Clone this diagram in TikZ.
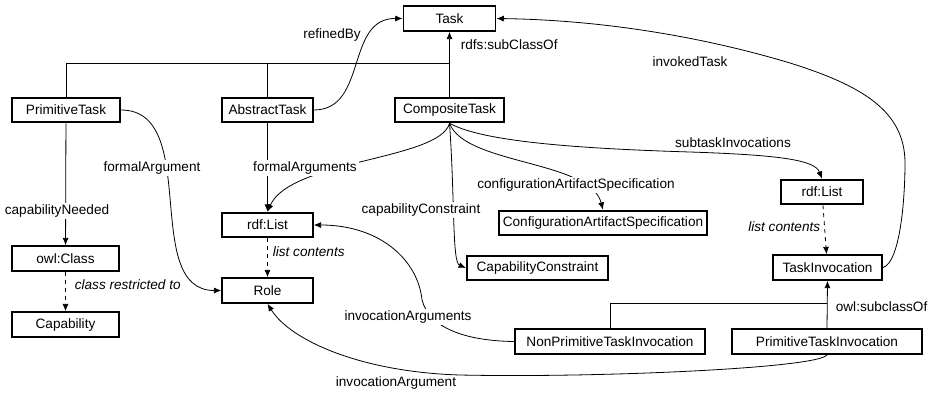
\documentclass[tikz,border=0pt]{standalone}
\usepackage{fontspec}
\setmainfont{Liberation Sans}
\usetikzlibrary{arrows.meta}

\begin{document}
\begin{tikzpicture}[x=0.75pt,y=-0.75pt,font=\fontsize{10.2}{12}\selectfont,line width=0.6pt,
  cls/.style={draw,line width=1.4pt,minimum height=18.5pt,inner xsep=2pt,inner ysep=1pt,minimum width=#1},
  cls/.default=68pt,
  arr/.style={-{Latex[length=5.5pt,width=4.5pt]}},
  lbl/.style={fill=white,inner sep=1.5pt}]

\useasboundingbox (0,0) rectangle (932,393);

\begin{scope}
% classes
\node[cls=69pt] (task) at (449.5,18.5) {Task};
\node[cls=81pt] (primtask) at (66,110) {PrimitiveTask};
\node[cls=68pt] (abstask) at (267.5,110) {AbstractTask};
\node[cls=82pt] (comptask) at (449.5,110) {CompositeTask};
\node[cls=80pt] (owlclass) at (65.5,258.5) {owl:Class};
\node[cls=80pt] (capability) at (65.5,324.5) {Capability};
\node[cls=68pt] (lista) at (267.5,225) {rdf:List};
\node[cls=68pt] (role) at (267.5,290.5) {Role};
\node[cls=106pt] (capcons) at (537.5,268) {CapabilityConstraint};
\node[cls=156pt] (confart) at (603,223) {ConfigurationArtifactSpecification};
\node[cls=62pt] (listb) at (822,192) {rdf:List};
\node[cls=82pt] (taskinv) at (827.5,267.5) {TaskInvocation};
\node[cls=142pt] (nonprim) at (610,341.5) {NonPrimitiveTaskInvocation};
\node[cls=142pt] (priminv) at (827,341.5) {PrimitiveTaskInvocation};

\coordinate (joint) at (449.5,63);
\coordinate (jointb) at (827,303);
\coordinate (bendr) at (905,163);
\coordinate (bendt) at (790,63);
\coordinate (bends) at (690,152);
\coordinate (bendi) at (422,300);
\coordinate (bendj) at (460,375);

% subclass tree
\draw[arr] (comptask.north) -- (task.south);
\draw (primtask.north) |- (joint);
\draw (abstask.north) -- (abstask.north |- joint);
\node[anchor=west] (subcl) at (456,45) {rdfs:subClassOf};

\draw[arr] (priminv.north) -- (taskinv.south);
\draw (nonprim.north) |- (jointb);
\node[anchor=west] (owlsub) at (831,307) {owl:subclassOf};

% properties
\draw[arr] (abstask.east) .. controls (368,110) and (345,18) .. (task.west);
\node (refined) at (332,35) {refinedBy};

\draw[arr] (primtask) -- (owlclass);
\draw[arr,dashed] (owlclass) -- (capability);
\node[anchor=west] (restr) at (70,285) {\itshape class restricted to};

\draw[arr] (primtask.east) to[out=0,in=180] (role.west);

\draw[arr] (abstask) -- (lista);
\draw[arr] (comptask.south) .. controls (440,160) and (290,160) .. (lista.north);
\draw[arr,dashed] (lista) -- (role);
\node[anchor=west] (lca) at (268,252) {\itshape list contents};

\draw[arr] (comptask.south) .. controls (455,200) and (452,262) .. (capcons.west);
\draw[arr] (comptask.south) .. controls (465,165) and (590,160) .. (confart.north);
\draw[arr] (comptask.south) .. controls (480,140) and (560,148) .. (bends)
  .. controls (780,155) and (815,160) .. (listb.north);
\node (subinv) at (733,143) {subtaskInvocations};

\draw[arr,dashed] (listb) -- (taskinv);
\node[anchor=east] (lcb) at (825,227) {\itshape list contents};

\draw[arr] (taskinv.east) .. controls (900,262) and (905,200) .. (bendr)
  .. controls (905,110) and (860,85) .. (bendt)
  .. controls (700,36) and (600,20) .. (task.east);
\node (invtask) at (690,62) {invokedTask};

\draw[arr] (nonprim.west) .. controls (470,341) and (430,330) .. (bendi)
  .. controls (418,260) and (380,225) .. (lista.east);
\draw[arr] (priminv.south) .. controls (820,368) and (600,378) .. (bendj)
  .. controls (360,372) and (290,340) .. (role.south);
\node (invarg) at (396,383) {invocationArgument};

% labels sitting on the lines
\node[lbl] (capneed) at (57,211) {capabilityNeeded};
\node[lbl] (formarg) at (152,168) {formalArgument};
\node[lbl] (formargs) at (305,168) {formalArguments};
\node[lbl] (capconsl) at (421,210) {capabilityConstraint};
\node[lbl] (confartl) at (576,185) {configurationArtifactSpecification};
\node[lbl] (invargs) at (408,317) {invocationArguments};

\end{scope}

\end{tikzpicture}
\end{document}
